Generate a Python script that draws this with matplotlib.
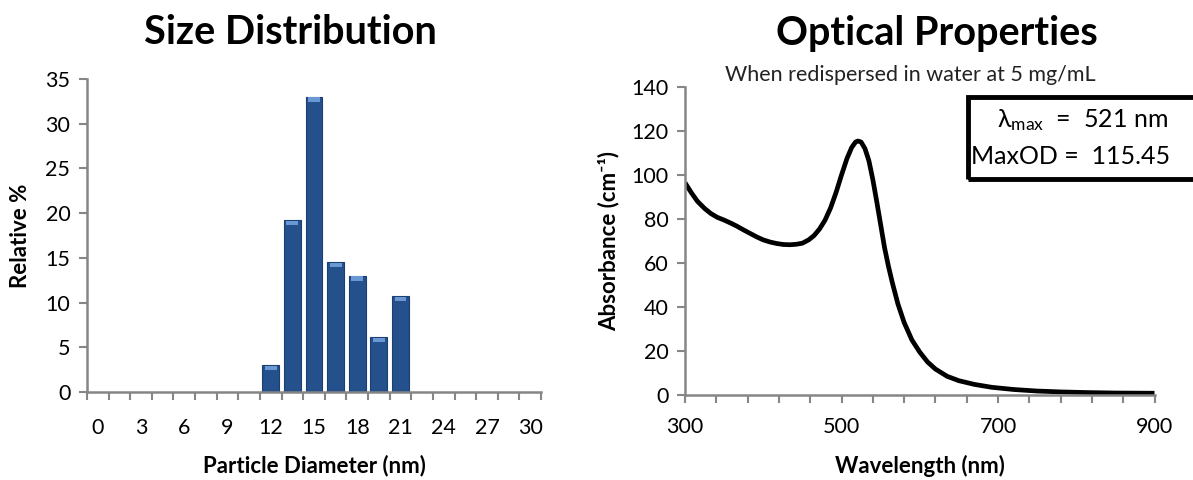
import numpy as np
import matplotlib
matplotlib.use("Agg")
from matplotlib import pyplot as plt
from matplotlib.patches import Rectangle

plt.rcParams['font.family'] = ['Lato', 'DejaVu Sans']

# size distribution (Excel category axis, 1.5 nm steps)
diam_cats = [i * 1.5 for i in range(21)]
bar_diam = [12, 13.5, 15, 16.5, 18, 19.5, 21]
bar_pct = [3.0, 19.2, 33.0, 14.5, 13.0, 6.1, 10.7]

# absorbance spectrum
wl = [300, 308, 316, 325, 333, 341, 350, 358, 366, 375, 384, 392, 400, 409, 418,
      426, 434, 442, 450, 458, 465, 472, 479, 486, 493, 500, 507, 513, 518, 521,
      525, 530, 535, 540, 545, 550, 555, 560, 565, 572, 580, 590, 600, 610, 620,
      635, 650, 670, 692, 720, 750, 780, 815, 850, 900]
absb = [96.5, 92.0, 88.0, 84.8, 82.5, 80.8, 79.5, 78.2, 76.8, 75.0, 73.3, 71.8, 70.5, 69.5, 68.8,
        68.4, 68.3, 68.5, 69.0, 70.5, 72.5, 75.5, 79.5, 85.0, 92.0, 100.0, 107.5, 112.5, 115.0, 115.45,
        115.0, 112.0, 106.5, 98.0, 88.0, 77.5, 67.0, 58.5, 51.0, 41.5, 33.0, 25.0, 19.5, 15.0, 11.8,
        8.5, 6.5, 4.8, 3.5, 2.5, 1.8, 1.4, 1.1, 0.9, 0.8]

axis_gray = '#868686'
W, H = 1193, 480

fig = plt.figure(figsize=(11.93, 4.8), dpi=100)

# ---- left: size distribution
ax1 = fig.add_axes([87 / W, 1 - 392 / H, 454 / W, 313 / H])
ax1.bar(bar_diam, bar_pct, width=1.5 * 0.78, color='#24508c', edgecolor='#1a3f70', linewidth=0.8)
# light bevel on top of each bar
ax1.bar(bar_diam, [0.5] * len(bar_pct), bottom=np.array(bar_pct) - 0.55, width=1.5 * 0.55,
        color='#6a98d4', linewidth=0)
ax1.set_xlim(-0.75, 30.75)
ax1.set_ylim(0, 35)
ax1.set_xticks(diam_cats[::2])
ax1.set_xticklabels([f"{int(d)}" for d in diam_cats[::2]])
ax1.set_xticks([d - 0.75 for d in diam_cats] + [30.75], minor=True)
ax1.set_yticks(range(0, 36, 5))
ax1.tick_params(axis='x', which='major', length=0, pad=19, labelsize=15.5)
ax1.tick_params(axis='x', which='minor', length=6, color=axis_gray, width=1.5)
ax1.tick_params(axis='y', length=6, color=axis_gray, width=1.5, labelsize=15.5, pad=6)
for s in ['top', 'right']:
    ax1.spines[s].set_visible(False)
for s in ['left', 'bottom']:
    ax1.spines[s].set_color(axis_gray)
    ax1.spines[s].set_linewidth(1.8)
ax1.set_xlabel('Particle Diameter (nm)', fontsize=16, fontweight='bold', labelpad=12)
ax1.set_ylabel('Relative %', fontsize=16, fontweight='bold', labelpad=10)
fig.text(290 / W, 1 - 33 / H, 'Size Distribution', ha='center', va='center', fontsize=28.5,
         fontweight='bold')

# ---- right: optical properties
ax2 = fig.add_axes([685 / W, 1 - 395 / H, 469.5 / W, 308 / H])
ax2.plot(wl, absb, color='black', linewidth=3.4, solid_capstyle='butt')
ax2.set_xlim(300, 900)
ax2.set_ylim(0, 140)
ax2.set_xticks([300, 500, 700, 900])
ax2.set_xticks(range(300, 901, 40), minor=True)
ax2.set_yticks(range(0, 141, 20))
ax2.tick_params(axis='x', which='both', length=6, color=axis_gray, width=1.5, labelsize=15.5, pad=10)
ax2.tick_params(axis='y', length=6, color=axis_gray, width=1.5, labelsize=15.5, pad=6)
for s in ['top', 'right']:
    ax2.spines[s].set_visible(False)
for s in ['left', 'bottom']:
    ax2.spines[s].set_color(axis_gray)
    ax2.spines[s].set_linewidth(1.8)
ax2.set_xlabel('Wavelength (nm)', fontsize=16, fontweight='bold', labelpad=13)
ax2.set_ylabel('Absorbance (cm⁻¹)', fontsize=16, fontweight='bold', labelpad=8)
fig.text(937 / W, 1 - 33 / H, 'Optical Properties', ha='center', va='center', fontsize=28.5,
         fontweight='bold')
fig.text(910 / W, 1 - 75 / H, 'When redispersed in water at 5 mg/mL', ha='center', va='center',
         fontsize=15.5, color='#222222')

# result box, runs off the right edge like the original
box = Rectangle((968 / W, 1 - 179 / H), 0.3, 82 / H, transform=fig.transFigure,
                fill=False, edgecolor='black', linewidth=3.5, clip_on=False)
fig.add_artist(box)
fig.text(1168 / W, 1 - 120 / H, '$\\mathregular{λ_{max}}$  =  521 nm', ha='right', va='center',
         fontsize=18)
fig.text(971 / W, 1 - 157 / H, 'MaxOD =  115.45', ha='left', va='center', fontsize=18)

fig.savefig('out.png', dpi=100)
